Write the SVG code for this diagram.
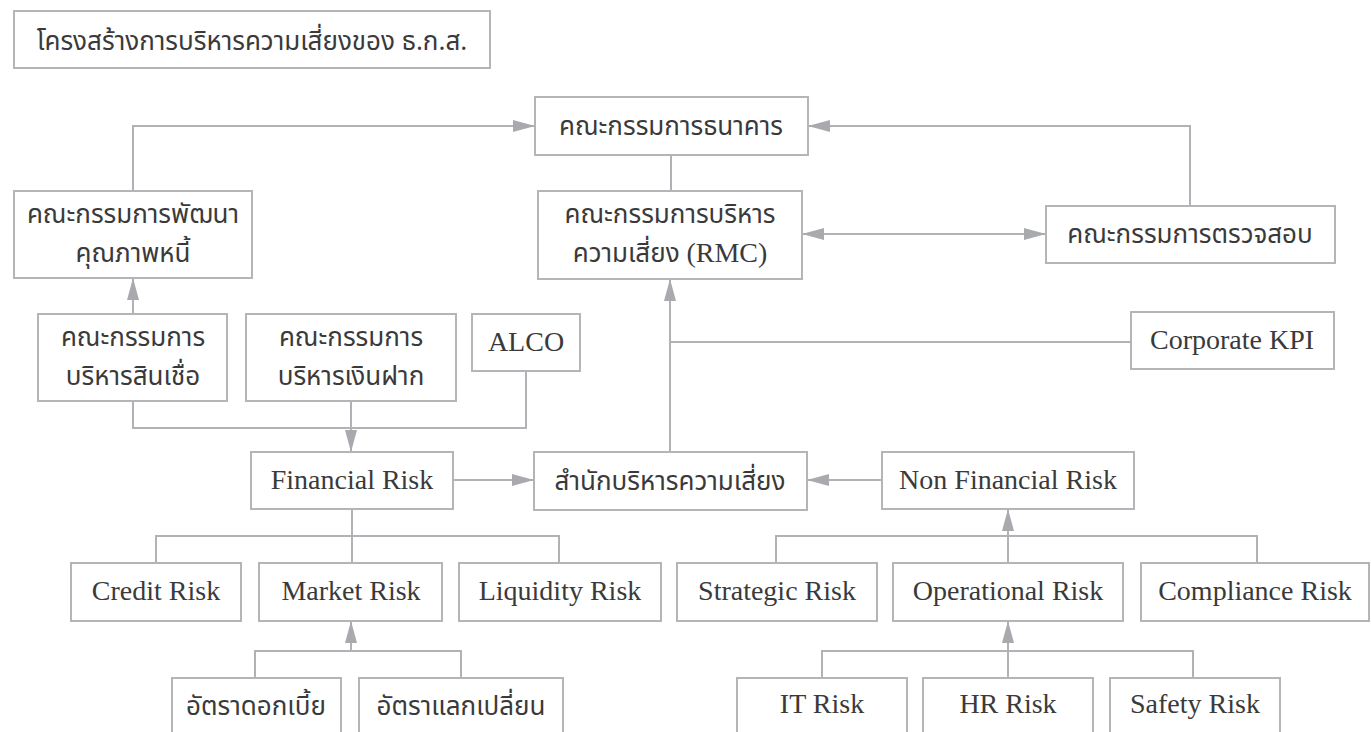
<svg xmlns="http://www.w3.org/2000/svg" width="1371" height="732" viewBox="0 0 1371 732">
<defs>
<marker id="arr" markerUnits="userSpaceOnUse" markerWidth="24" markerHeight="12" refX="22" refY="6" orient="auto-start-reverse">
<path d="M0,0 L22,6 L0,12 z" fill="#a9aaae"/>
</marker>
</defs>
<style>
rect{fill:#fff;stroke:#b4b5b8;stroke-width:2}
.c path,.c line{fill:none;stroke:#b1b2b5;stroke-width:2}
text{fill:#3a3a3a;text-anchor:middle}
.th{font-family:"Noto Sans Thai","Noto Sans","DejaVu Sans",sans-serif;font-size:26px}
.en{font-family:"Liberation Serif",serif;font-size:28px}
</style>
<rect width="1371" height="732" style="fill:#fff;stroke:none"/>
<g id="title"><rect x="14" y="11" width="476" height="57"/><text class="th" x="252" y="50">โครงสร้างการบริหารความเสี่ยงของ ธ.ก.ส.</text></g>
<g class="c" id="connectors">
<path d="M133,191 V126 H535" marker-end="url(#arr)"/>
<path d="M1190,206 V126 H808" marker-end="url(#arr)"/>
<path d="M671,155 V191"/>
<path d="M802,234 H1046" marker-start="url(#arr)" marker-end="url(#arr)"/>
<path d="M133,314 V278" marker-end="url(#arr)"/>
<path d="M670,452 V279" marker-end="url(#arr)"/>
<path d="M670,342 H1131"/>
<path d="M133,401 V428 H526 V371"/>
<path d="M351,401 V452" marker-end="url(#arr)"/>
<path d="M453,480 H534" marker-end="url(#arr)"/>
<path d="M882,480 H807" marker-end="url(#arr)"/>
<path d="M352,509 V563"/>
<path d="M156,563 V536 H559 V563"/>
<path d="M1008,563 V509" marker-end="url(#arr)"/>
<path d="M776,563 V536 H1257 V563"/>
<path d="M351,651 V621" marker-end="url(#arr)"/>
<path d="M255,678 V651 H461 V678"/>
<path d="M1008,678 V621" marker-end="url(#arr)"/>
<path d="M822,678 V651 H1193 V678"/>
</g>
<g id="board"><rect x="535" y="97" width="273" height="58"/><text class="th" x="671" y="135">คณะกรรมการธนาคาร</text></g>
<g id="dev"><rect x="14" y="191" width="238" height="87"/><text class="th" x="133" y="223">คณะกรรมการพัฒนา</text><text class="th" x="133" y="262">คุณภาพหนี้</text></g>
<g id="rmc"><rect x="538" y="191" width="264" height="88"/><text class="th" x="670" y="223">คณะกรรมการบริหาร</text><text class="th" x="670" y="262">ความเสี่ยง <tspan class="en">(RMC)</tspan></text></g>
<g id="audit"><rect x="1046" y="206" width="289" height="57"/><text class="th" x="1190" y="243">คณะกรรมการตรวจสอบ</text></g>
<g id="credit-committee"><rect x="38" y="314" width="189" height="87"/><text class="th" x="133" y="346">คณะกรรมการ</text><text class="th" x="133" y="385">บริหารสินเชื่อ</text></g>
<g id="deposit-committee"><rect x="246" y="314" width="210" height="87"/><text class="th" x="351" y="346">คณะกรรมการ</text><text class="th" x="351" y="385">บริหารเงินฝาก</text></g>
<g id="alco"><rect x="472" y="314" width="108" height="57"/><text class="en" x="526" y="351">ALCO</text></g>
<g id="kpi"><rect x="1131" y="312" width="203" height="57"/><text class="en" x="1232" y="349">Corporate KPI</text></g>
<g id="financial"><rect x="251" y="452" width="202" height="57"/><text class="en" x="352" y="489">Financial Risk</text></g>
<g id="office"><rect x="534" y="452" width="273" height="58"/><text class="th" x="670" y="490">สำนักบริหารความเสี่ยง</text></g>
<g id="nonfinancial"><rect x="882" y="452" width="252" height="57"/><text class="en" x="1008" y="489">Non Financial Risk</text></g>
<g id="credit"><rect x="71" y="563" width="170" height="58"/><text class="en" x="156" y="600">Credit Risk</text></g>
<g id="market"><rect x="259" y="563" width="183" height="58"/><text class="en" x="351" y="600">Market Risk</text></g>
<g id="liquidity"><rect x="459" y="563" width="202" height="58"/><text class="en" x="560" y="600">Liquidity Risk</text></g>
<g id="strategic"><rect x="677" y="563" width="200" height="58"/><text class="en" x="777" y="600">Strategic Risk</text></g>
<g id="operational"><rect x="893" y="563" width="230" height="58"/><text class="en" x="1008" y="600">Operational Risk</text></g>
<g id="compliance"><rect x="1141" y="563" width="228" height="58"/><text class="en" x="1255" y="600">Compliance Risk</text></g>
<g id="interest"><rect x="172" y="678" width="169" height="70"/><text class="th" x="256" y="715">อัตราดอกเบี้ย</text></g>
<g id="exchange"><rect x="359" y="678" width="204" height="70"/><text class="th" x="461" y="715">อัตราแลกเปลี่ยน</text></g>
<g id="it"><rect x="737" y="678" width="170" height="70"/><text class="en" x="822" y="713">IT Risk</text></g>
<g id="hr"><rect x="923" y="678" width="170" height="70"/><text class="en" x="1008" y="713">HR Risk</text></g>
<g id="safety"><rect x="1110" y="678" width="170" height="70"/><text class="en" x="1195" y="713">Safety Risk</text></g>
</svg>
